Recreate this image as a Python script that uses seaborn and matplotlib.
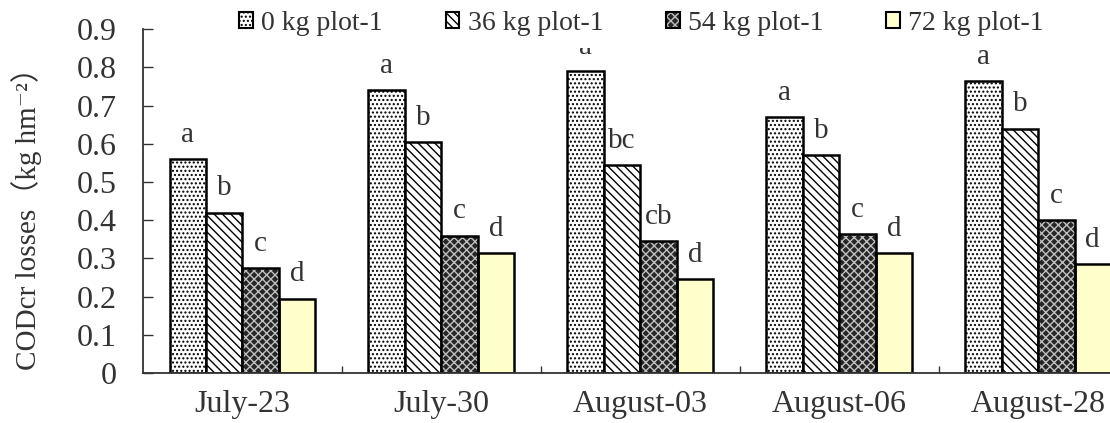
import matplotlib
matplotlib.use("Agg")
import matplotlib.pyplot as plt
from matplotlib.patches import Patch, Rectangle
from matplotlib.ticker import FixedLocator
import numpy as np
import pandas as pd
import seaborn as sns

# Sampling dates and fertiliser treatments
dates = ["July-23", "July-30", "August-03", "August-06", "August-28"]
treatments = ["0 kg plot-1", "36 kg plot-1", "54 kg plot-1", "72 kg plot-1"]

# CODcr losses (kg hm-2) per treatment, one value per date
loss_0 = [0.56, 0.74, 0.79, 0.67, 0.765]
loss_36 = [0.42, 0.605, 0.545, 0.57, 0.64]
loss_54 = [0.275, 0.36, 0.345, 0.365, 0.40]
loss_72 = [0.195, 0.315, 0.245, 0.315, 0.285]

# Significance letters per treatment, one per date
letters_0 = ["a", "a", "a", "a", "a"]
letters_36 = ["b", "b", "bc", "b", "b"]
letters_54 = ["c", "c", "cb", "c", "c"]
letters_72 = ["d", "d", "d", "d", "d"]

yticks = [0, 0.1, 0.2, 0.3, 0.4, 0.5, 0.6, 0.7, 0.8, 0.9]
ytick_labels = ["0", "0.1", "0.2", "0.3", "0.4", "0.5", "0.6", "0.7", "0.8", "0.9"]

losses = [loss_0, loss_36, loss_54, loss_72]
letters = [letters_0, letters_36, letters_54, letters_72]

df = pd.DataFrame({
    "date": np.tile(dates, len(treatments)),
    "treatment": np.repeat(treatments, len(dates)),
    "loss": np.concatenate(losses),
})

sns.set_style("ticks")
plt.rcParams["font.family"] = ["Liberation Serif", "DejaVu Serif", "Noto Sans CJK SC"]
plt.rcParams["hatch.linewidth"] = 1.0

text_color = "#333333"

fig = plt.figure(figsize=(11.10, 4.23), dpi=100)
ax = fig.add_axes([0.1288, 0.118, 0.896, 0.813])

sns.barplot(data=df, x="date", y="loss", hue="treatment", order=dates,
            hue_order=treatments, width=0.733, gap=0, ax=ax, legend=False,
            errorbar=None, saturation=1)

# Fill styles for the four treatments
styles = [
    dict(face="white", hatch="....", hcolor="black"),
    dict(face="white", hatch="\\\\\\\\", hcolor="black"),
    dict(face="#262626", hatch="xxxx", hcolor="#c0c0c0"),
    dict(face="#FFFFCC", hatch=None, hcolor="black"),
]
edge_lw = 1.8

for cont, st, labs in zip(ax.containers, styles, letters):
    for bar in cont:
        bar.set_facecolor(st["face"])
        bar.set_hatch(st["hatch"])
        bar.set_edgecolor(st["hcolor"])
        if st["hcolor"] != "black":
            bar.set_linewidth(0)
            ax.add_patch(Rectangle(bar.get_xy(), bar.get_width(), bar.get_height(),
                                   fill=False, edgecolor="black", lw=edge_lw,
                                   zorder=bar.get_zorder() + 0.1))
        else:
            bar.set_linewidth(edge_lw)
    ax.bar_label(cont, labels=labs, padding=8, fontsize=21, color=text_color)

ax.set_xlim(-0.5, len(dates) - 0.5)
ax.set_ylim(0, 0.9)
ax.set_yticks(yticks)
ax.set_yticklabels(ytick_labels)
ax.xaxis.set_minor_locator(FixedLocator([0.5, 1.5, 2.5, 3.5]))

ax.tick_params(axis="y", direction="in", length=7, width=1, pad=19,
               labelsize=23, labelcolor=text_color, color="#333333")
ax.tick_params(axis="x", which="major", length=0, pad=12,
               labelsize=23, labelcolor=text_color)
ax.tick_params(axis="x", which="minor", direction="in", length=5, width=1, color="#333333")

for side in ["top", "right"]:
    ax.spines[side].set_visible(False)
for side in ["left", "bottom"]:
    ax.spines[side].set_linewidth(1.3)
    ax.spines[side].set_color("#333333")

ax.set_xlabel("")
ax.set_ylabel("CODcr losses（kg hm⁻²）", fontsize=21, color=text_color)
ax.yaxis.set_label_coords(-0.1015, 0.47)

# Legend with small square swatches on an opaque white band
handles = []
for st in styles:
    if st["hcolor"] != "black":
        handles.append((Patch(facecolor=st["face"], hatch=st["hatch"], edgecolor=st["hcolor"], lw=0),
                        Patch(fill=False, edgecolor="black", lw=1.5)))
    else:
        handles.append(Patch(facecolor=st["face"], hatch=st["hatch"], edgecolor="black", lw=1.5))

leg = fig.legend(handles, treatments, loc="center", bbox_to_anchor=(0.578, 0.945), ncol=4,
                 fontsize=20, handlelength=0.5, handleheight=0.5, handletextpad=0.3,
                 columnspacing=2.25, frameon=True, borderpad=0.45, fancybox=False,
                 framealpha=1)
leg.get_frame().set_facecolor("white")
leg.get_frame().set_edgecolor("none")
for t in leg.get_texts():
    t.set_color(text_color)

fig.savefig("out.png", dpi=100)
